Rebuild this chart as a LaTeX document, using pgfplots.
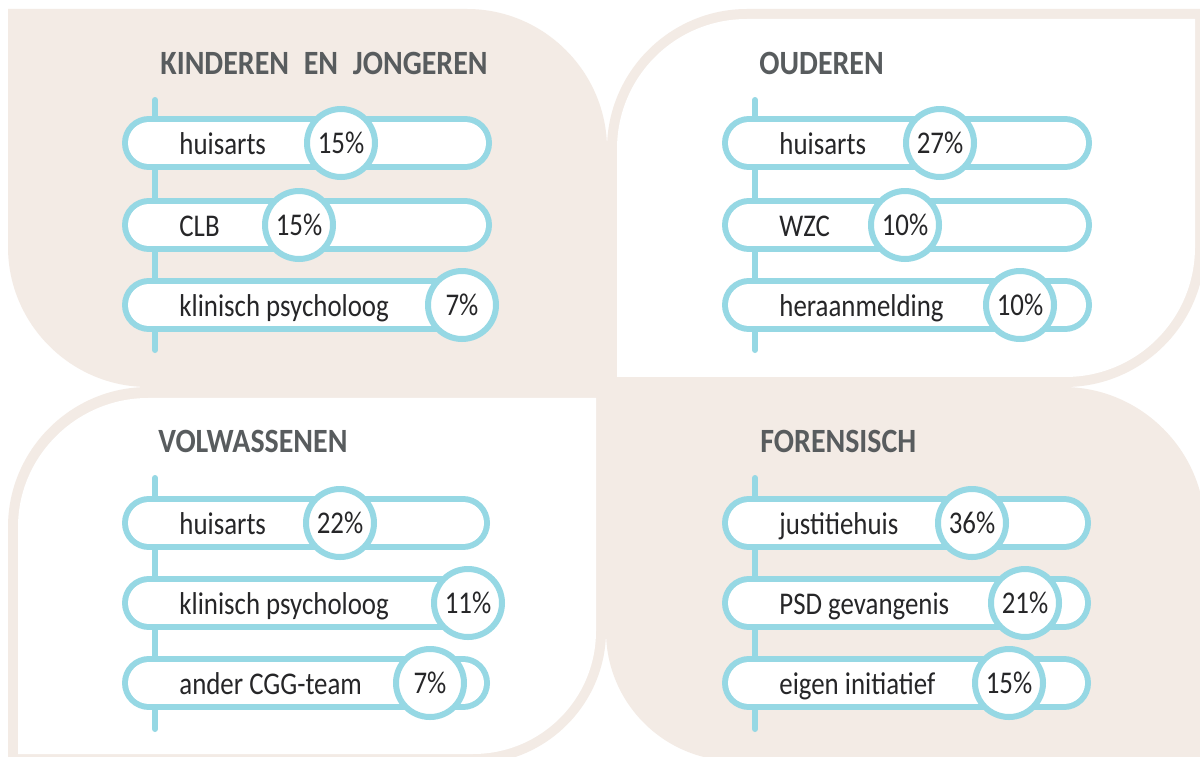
\documentclass[border=0pt]{standalone}
\usepackage{pgfplots}
\pgfplotsset{compat=1.18}
\usepackage{pgfplotstable}
\usepackage{fontspec}
\setmainfont{Carlito}[FakeStretch=0.85]
\newfontfamily\titlefont{Carlito}[FakeStretch=0.88]
\definecolor{beige}{RGB}{243,235,229}
\definecolor{cblue}{RGB}{150,216,228}
\definecolor{ink}{RGB}{38,38,40}
\definecolor{tgray}{RGB}{88,92,94}

% y = row centre (px from top), xc = circle centre, val = percentage
\pgfplotstableread{
y   xc    val  lx   label
143 341   15   179  huisarts
225 299   15   179  CLB
305 462   7    179  {klinisch psycholoog}
}\tabKJ
\pgfplotstableread{
y   xc    val  lx   label
143 940   27   779  huisarts
225 905   10   779  WZC
305 1020  10   779  heraanmelding
}\tabOU
\pgfplotstableread{
y   xc    val  lx   label
523 340   22   179  huisarts
603 468   11   179  {klinisch psycholoog}
683 430   7    179  {ander CGG-team}
}\tabVO
\pgfplotstableread{
y   xc    val  lx   label
523 972   36   779  justitiehuis
603 1025  21   779  {PSD gevangenis}
683 1009  15   779  {eigen initiatief}
}\tabFO

% #1 table, #2 pill start x, #3 pill length, #4 stem x, #5 stem top, #6 stem bottom
\newcommand{\drawpanel}[6]{%
  \addplot[cblue, line width=3pt, line cap=round] coordinates {(#4,#5) (#4,#6)};
  \addplot[cblue, line width=27pt, line cap=round, -, quiver={u=#3, v=0}]
     table[x expr=#2, y=y] {#1};
  \addplot[white, line width=21pt, line cap=round, -, quiver={u=#3, v=0}]
     table[x expr=#2, y=y] {#1};
  \addplot[only marks, mark=*, mark size=17pt,
     mark options={fill=white, draw=cblue, line width=3pt},
     point meta=explicit symbolic,
     nodes near coords={\pgfplotspointmeta\%},
     every node near coord/.append style={anchor=center, inner sep=0pt, text=ink,
        font=\fontsize{15.8}{18}\selectfont}]
     table[x=xc, y=y, meta=val] {#1};
  \addplot[draw=none, mark=none,
     point meta=explicit symbolic,
     nodes near coords={\pgfplotspointmeta},
     every node near coord/.append style={anchor=base west, inner sep=0pt, yshift=-5.5pt,
        text=ink, font=\fontsize{15.8}{18}\selectfont}]
     table[x=lx, y=y, meta=label] {#1};
}

\begin{document}
\begin{tikzpicture}
\useasboundingbox (0,0) rectangle (600pt,378pt);
\clip (0,0) rectangle (600pt,378pt);
\fill[white] (0,0) rectangle (600pt,378pt);
\begin{scope}[x=0.5pt, y=-0.5pt, shift={(0pt,378pt)}]
  % top-left leaf
  \fill[beige] (8,9) -- (467,9) .. controls (544,9) and (607,72) .. (607,149)
     -- (607,387) -- (148,387) .. controls (71,387) and (8,324) .. (8,247) -- cycle;
  % top-right panel
  \fill[beige] (607,387) -- (607,149) .. controls (607,72) and (670,9) .. (747,9)
     -- (1205,9) -- (1205,247) .. controls (1205,324) and (1142,387) .. (1065,387) -- cycle;
  \fill[white] (617,377) -- (617,149) .. controls (617,77) and (675,19) .. (747,19)
     -- (1195,19) -- (1195,247) .. controls (1195,319) and (1137,377) .. (1065,377) -- cycle;
  % bottom-left panel
  \fill[beige] (8,770) -- (8,527) .. controls (8,450) and (71,387) .. (148,387)
     -- (606,387) -- (606,631) .. controls (606,704) and (546,764) .. (473,764) -- (8,764) -- cycle;
  \fill[white] (18,754) -- (18,527) .. controls (18,456) and (77,398) .. (148,398)
     -- (596,398) -- (596,631) .. controls (596,699) and (541,754) .. (473,754) -- cycle;
  % bottom-right leaf
  \fill[beige] (606,387) -- (1063,387) .. controls (1141,387) and (1205,451) .. (1205,529)
     -- (1205,770) -- (736,770) -- (736,761) .. controls (664,761) and (606,703) .. (606,631) -- cycle;
\end{scope}
\begin{axis}[at={(0,0)}, anchor=south west,
  width=600pt, height=378pt, scale only axis,
  xmin=0, xmax=1200, ymin=0, ymax=756, y dir=reverse,
  hide axis, clip=false]
  \drawpanel{\tabKJ}{149}{316}{155}{100}{350}
  \drawpanel{\tabOU}{749}{316}{755}{100}{350}
  \drawpanel{\tabVO}{149}{314}{155}{478}{729}
  \drawpanel{\tabFO}{749}{315}{755}{478}{729}
  \node[anchor=base west, inner sep=0pt, text=tgray, font=\titlefont\bfseries\fontsize{17}{20}\selectfont]
     at (axis cs:160,74) {KINDEREN\hspace{4pt} EN\hspace{4pt} JONGEREN};
  \node[anchor=base west, inner sep=0pt, text=tgray, font=\titlefont\bfseries\fontsize{17}{20}\selectfont]
     at (axis cs:759,74) {OUDEREN};
  \node[anchor=base west, inner sep=0pt, text=tgray, font=\titlefont\bfseries\fontsize{17}{20}\selectfont]
     at (axis cs:158,452) {VOLWASSENEN};
  \node[anchor=base west, inner sep=0pt, text=tgray, font=\titlefont\bfseries\fontsize{17}{20}\selectfont]
     at (axis cs:760,452) {FORENSISCH};
\end{axis}
\end{tikzpicture}
\end{document}
